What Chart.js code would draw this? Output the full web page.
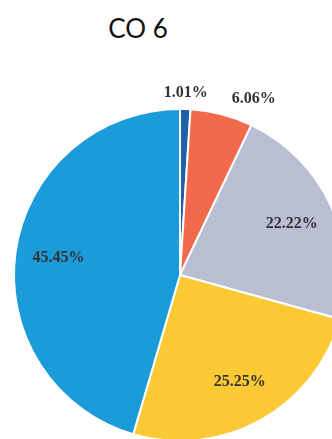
<!DOCTYPE html>
<html>
<head>
<meta charset="utf-8">
<script src="https://cdn.jsdelivr.net/npm/chart.js@4"></script>
<style>
  body { margin: 0; width: 332px; height: 439px; overflow: hidden; background: #fff; position: relative; }
  #title { position: absolute; left: 0; width: 276px; top: 12px; text-align: center;
           font-family: Lato, "Open Sans", sans-serif; font-size: 26px; color: #111; }
  #wrap { position: absolute; left: -20px; top: 75px; width: 400px; height: 400px; }
</style>
</head>
<body>
<div id="title">CO 6</div>
<div id="wrap"><canvas id="pie" width="400" height="400"></canvas></div>
<script>
const labels = ['A', 'B', 'C', 'D', 'E'];
const values = [1, 6, 22, 25, 45];
const pctLabels = ['1.01%', '6.06%', '22.22%', '25.25%', '45.45%'];
const colors = ['#1d5fa8', '#f26a4c', '#b9bed3', '#fbc934', '#1b9bd9'];

// draws the percent labels, small slices outside, the rest inside
const pctPlugin = {
  id: 'pct',
  afterDatasetsDraw(chart) {
    const ctx = chart.ctx;
    const arcs = chart.getDatasetMeta(0).data;
    const total = values.reduce((a, b) => a + b, 0);
    ctx.save();
    ctx.font = 'bold 16px "Liberation Serif", serif';
    ctx.fillStyle = '#333333';
    ctx.textBaseline = 'middle';
    arcs.forEach((arc, i) => {
      const mid = (arc.startAngle + arc.endAngle) / 2;
      const R = arc.outerRadius;
      let r, align = 'center';
      if (values[i] / total < 0.08) {
        r = R + 16;
        const dx = Math.cos(mid);
        if (Math.abs(dx) > 0.1) align = dx > 0 ? 'left' : 'right';
      } else {
        r = R * 0.74;
      }
      ctx.textAlign = align;
      ctx.fillText(pctLabels[i], arc.x + Math.cos(mid) * r + (align == 'left' ? 6 : 0), arc.y + Math.sin(mid) * r);
    });
    ctx.restore();
  }
};

new Chart(document.getElementById('pie'), {
  type: 'pie',
  data: {
    labels: labels,
    datasets: [{
      data: values,
      backgroundColor: colors,
      borderColor: '#ffffff',
      borderWidth: 2
    }]
  },
  options: {
    responsive: false,
    animation: false,
    layout: { padding: 33 },
    plugins: {
      legend: { display: false },
      tooltip: { enabled: false }
    }
  },
  plugins: [pctPlugin]
});
</script>
</body>
</html>
